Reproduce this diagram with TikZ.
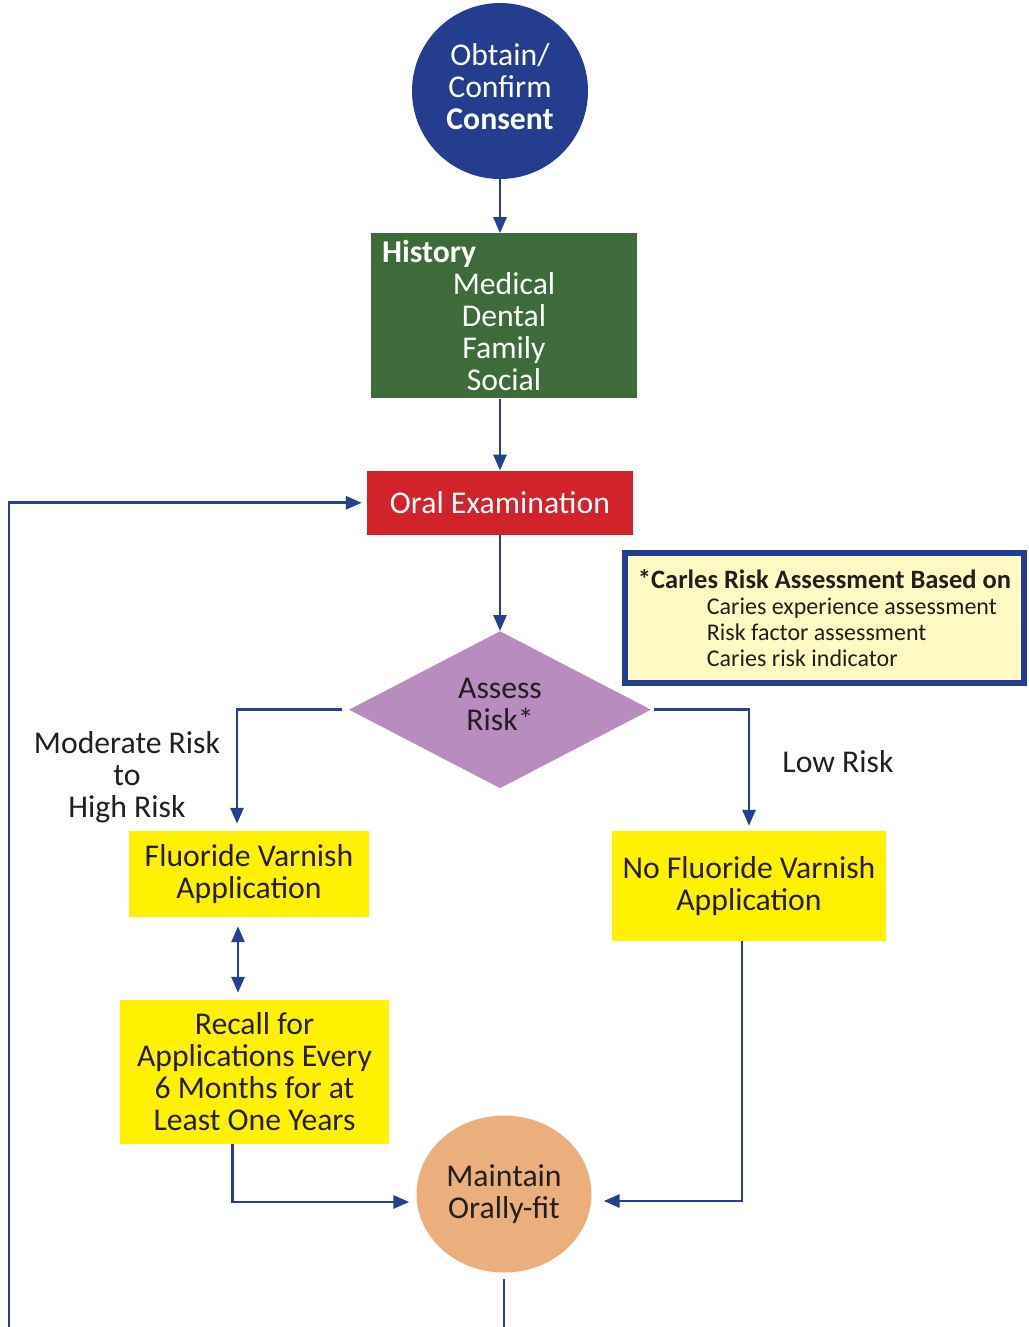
\documentclass[tikz,border=0pt]{standalone}
\usepackage{fontspec}
\setmainfont{Carlito}
\usetikzlibrary{arrows.meta,positioning,shapes.geometric,calc}

\definecolor{flowblue}{HTML}{24408E}
\definecolor{consentblue}{HTML}{253D8F}
\definecolor{histgreen}{HTML}{3D6B39}
\definecolor{examred}{HTML}{D2232A}
\definecolor{riskpurple}{HTML}{B98CC0}
\definecolor{varnishyellow}{HTML}{FFF100}
\definecolor{fitorange}{HTML}{EBAF7E}
\definecolor{notefill}{HTML}{FFF9C3}
\definecolor{inkdark}{HTML}{231F20}

\begin{document}
\begin{tikzpicture}[
    x=1pt, y=-1pt,
    font=\fontsize{31.7}{32}\selectfont,
    >={Triangle[length=16pt, width=13pt]},
    block/.style  ={rectangle, inner sep=0pt, align=center, text=inkdark},
    hist/.style   ={block, fill=histgreen, text=white,
                    minimum width=266pt, minimum height=165pt},
    exam/.style   ={block, fill=examred, text=white,
                    minimum width=266pt, minimum height=64pt},
    varnish/.style={block, fill=varnishyellow},
    decide/.style ={diamond, fill=riskpurple, text=inkdark, align=center,
                    inner sep=0pt, minimum width=302pt, minimum height=157pt},
    start/.style  ={circle, fill=consentblue, text=white, align=center,
                    inner sep=0pt, minimum size=176pt},
    goal/.style   ={ellipse, fill=fitorange, text=inkdark, align=center,
                    inner sep=0pt, minimum width=175pt, minimum height=157pt},
    note/.style   ={rectangle, draw=consentblue, line width=6pt, fill=notefill,
                    text=inkdark, align=left, inner sep=0pt,
                    minimum width=399pt, minimum height=130pt,
                    font=\fontsize{24}{26}\selectfont},
    flow/.style   ={->, line width=2.8pt, draw=flowblue},
    lbl/.style    ={align=center, text=inkdark},
]
\useasboundingbox (0,0) rectangle (1028,1327);
\clip (0,0) rectangle (1028,1327);

% main column
\node[start] (consent) at (500,91)
        {Obtain/\\Confirm\\\textbf{Consent}\\[-22pt]};
\node[hist, below=54pt of consent, xshift=4pt] (history)
        {\makebox[244pt][l]{\textbf{History}}\\Medical\\Dental\\Family\\Social};
\node[exam, below=72pt of history, xshift=-4pt] (exam) {Oral Examination};
\node[decide, below=96pt of exam] (risk) {Assess\\Risk*\\[-22pt]};

% note on the risk assessment
\node[note] (basis) at (824.5,618)
        {{\fontsize{26.5}{26}\selectfont\textbf{*Carles Risk Assessment Based on}}\\
         \hspace*{69pt}Caries experience assessment\\
         \hspace*{69pt}Risk factor assessment\\
         \hspace*{69pt}Caries risk indicator};

% the two branches
\node[varnish, minimum width=240pt, minimum height=86pt] (fv) at (249,874)
        {Fluoride Varnish\\Application};
\node[varnish, minimum width=274pt, minimum height=110pt] (nofv) at (749,886)
        {No Fluoride Varnish\\Application};
\node[varnish, minimum width=269pt, minimum height=144pt] (recall) at (254.5,1072)
        {Recall for\\Applications Every\\6 Months for at\\Least One Years};
\node[goal] (maintain) at (504,1194) {Maintain\\Orally-fit};

\node[lbl] (modhigh) at (127,777) {Moderate Risk\\to\\High Risk};
\node[lbl] (low) at (838,762) {Low Risk};

% edges
\draw[flow] (consent)  -- (consent |- history.north);
\draw[flow] (consent |- history.south) -- (exam);
\draw[flow] (exam)     -- (risk);

\draw[flow, shorten <=7pt, shorten >=7pt]
      (risk.west) -| ([xshift=-12pt]fv.north);
\draw[flow, shorten <=3pt, shorten >=5pt]
      (risk.east) -| (nofv.north);

\draw[flow, <->, shorten <=9pt, shorten >=7pt]
      ([xshift=-11pt]fv.south) -- ([xshift=-11pt]fv.south |- recall.north);

\draw[flow, shorten >=7pt]
      ([xshift=-22pt]recall.south) |- ([yshift=-8pt]maintain.west);
\draw[flow, shorten >=12pt]
      ([xshift=-7pt]nofv.south) |- ([yshift=-7pt]maintain.east);

% loop back to the examination (runs off the bottom edge)
\coordinate (loopbot) at (9,1400);
\draw[flow, shorten <=6pt, shorten >=5pt]
      (maintain.south) |- (loopbot) |- (exam.west);

\end{tikzpicture}
\end{document}
